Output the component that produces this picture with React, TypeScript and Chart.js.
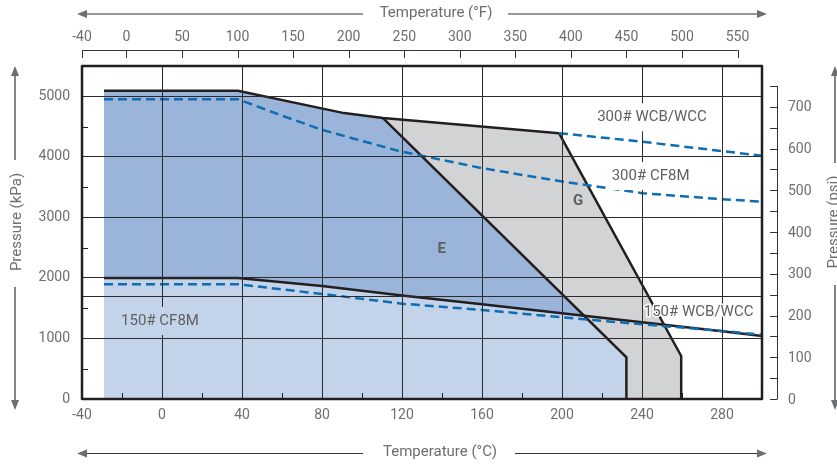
import React, { useEffect, useRef } from 'react';
import { Chart, registerables } from 'chart.js';

Chart.register(...registerables);

const FONT = 'Roboto, "DejaVu Sans", sans-serif';
const TEXT = '#6d6e71';
const LABEL = '#5f6062';
const LINE = '#231f20';
const DASH = '#0f6db4';
const DARK_BLUE = '#9bb5da';
const LIGHT_BLUE = '#c3d3e9';
const GREY = '#d2d3d5';

// Axis ticks
const tempTicksC = [-40, 0, 40, 80, 120, 160, 200, 240, 280];
const tempMinorC = [-20, 20, 60, 100, 140, 180, 220, 260];
const tempTicksF = [-40, 0, 50, 100, 150, 200, 250, 300, 350, 400, 450, 500, 550];
const kpaTicks = [0, 1000, 1700, 2000, 3000, 4000, 5000];
const kpaUnlabelled = [1700];
const kpaMinor = [500, 1500, 2500, 3500, 4500];
const psiLabels = [0, 100, 200, 300, 400, 500, 600, 700];
const psiTicks = [0, 50, 100, 150, 200, 250, 300, 350, 400, 450, 500, 550, 600, 650, 700, 750];

const TEMP_MIN = -40;
const TEMP_MAX = 300;
const KPA_MAX = 5500;
const KPA_PER_PSI = 6.894757;

// Series (temperature in °C, pressure in kPa)
const wcb300Temp = [-29, 38, 91, 110.5, 198.5];
const wcb300KPa = [5090, 5090, 4722, 4640, 4391];
const wcb300ExtTemp = [198.5, 240, 300];
const wcb300ExtKPa = [4391, 4250, 4017];
const cf8m300Temp = [-29, 38, 60, 80, 118, 160, 200, 240, 280, 300];
const cf8m300KPa = [4950, 4950, 4680, 4446, 4099, 3813, 3592, 3400, 3300, 3260];
const wcb150Temp = [-29, 38, 80, 120, 160, 200, 240, 280, 300];
const wcb150KPa = [2000, 2000, 1868, 1710, 1565, 1416, 1268, 1120, 1040];
const cf8m150Temp = [-29, 38, 80, 120, 160, 200, 240, 280, 300];
const cf8m150KPa = [1895, 1895, 1735, 1575, 1471, 1350, 1234, 1125, 1062];
const zoneETemp = [-29, 38, 91, 110.5, 232.2, 232.2];
const zoneEKPa = [5090, 5090, 4722, 4640, 689, 0];
const zoneELowTemp = [-29, 38, 80, 120, 160, 200, 211.3, 232.2, 232.2];
const zoneELowKPa = [2000, 2000, 1868, 1710, 1565, 1416, 1370, 689, 0];
const zoneGTemp = [110.5, 198.5, 259.6, 259.6];
const zoneGKPa = [4640, 4391, 711, 0];

const pts = (xs: number[], ys: number[]) => xs.map((x, i) => ({ x, y: ys[i] }));

const lineDs = (xs: number[], ys: number[], color: string, dash: number[] = []) => ({
  data: pts(xs, ys),
  borderColor: color,
  borderWidth: 2.5,
  borderDash: dash,
  borderJoinStyle: 'miter' as const,
  pointRadius: 0,
  fill: false,
  tension: 0,
});

const fillDs = (xs: number[], ys: number[], color: string) => ({
  data: pts(xs, ys),
  borderColor: 'rgba(0,0,0,0)',
  borderWidth: 1,
  backgroundColor: color,
  pointRadius: 0,
  fill: 'origin',
  tension: 0,
});

function arrow(ctx: CanvasRenderingContext2D, x1: number, y1: number, x2: number, y2: number) {
  const ang = Math.atan2(y2 - y1, x2 - x1);
  const hl = 10;
  const hw = 4;
  ctx.beginPath();
  ctx.moveTo(x1, y1);
  ctx.lineTo(x2 - Math.cos(ang) * (hl - 1), y2 - Math.sin(ang) * (hl - 1));
  ctx.stroke();
  ctx.beginPath();
  ctx.moveTo(x2, y2);
  ctx.lineTo(x2 - Math.cos(ang) * hl - Math.sin(ang) * hw, y2 - Math.sin(ang) * hl + Math.cos(ang) * hw);
  ctx.lineTo(x2 - Math.cos(ang) * hl + Math.sin(ang) * hw, y2 - Math.sin(ang) * hl - Math.cos(ang) * hw);
  ctx.closePath();
  ctx.fill();
}

const decorPlugin = {
  id: 'decor',
  afterDraw(chart: any) {
    const ctx: CanvasRenderingContext2D = chart.ctx;
    const { left, right, top, bottom } = chart.chartArea;
    const xs = chart.scales.x;
    const ys = chart.scales.y;
    const xf = chart.scales.xF;
    const yp = chart.scales.yPsi;
    ctx.save();

    // minor ticks inside plot
    ctx.strokeStyle = LINE;
    ctx.lineWidth = 1;
    ctx.beginPath();
    tempMinorC.forEach((t) => {
      const px = Math.round(xs.getPixelForValue(t)) + 0.5;
      ctx.moveTo(px, bottom);
      ctx.lineTo(px, bottom - 6);
    });
    kpaMinor.forEach((k) => {
      const py = Math.round(ys.getPixelForValue(k)) + 0.5;
      ctx.moveTo(left, py);
      ctx.lineTo(left + 6, py);
    });
    ctx.stroke();

    // series labels
    const label = (text: string, t: number, k: number, bg: string | null, halo: boolean, bold = false) => {
      const cx = xs.getPixelForValue(t);
      const cy = ys.getPixelForValue(k);
      ctx.font = `${bold ? 'bold ' : ''}15px ${FONT}`;
      ctx.textAlign = 'center';
      ctx.textBaseline = 'middle';
      const w = ctx.measureText(text).width;
      if (bg) {
        ctx.fillStyle = bg;
        ctx.fillRect(cx - w / 2 - 4, cy - 14, w + 8, 28);
      }
      if (halo) {
        ctx.strokeStyle = '#ffffff';
        ctx.lineWidth = 3;
        ctx.lineJoin = 'round';
        ctx.strokeText(text, cx, cy);
      }
      ctx.fillStyle = LABEL;
      ctx.fillText(text, cx, cy);
    };
    label('300# WCB/WCC', 245, 4652, '#ffffff', false);
    label('300# CF8M', 244.3, 3683, '#ffffff', false);
    label('150# CF8M', -1, 1288, LIGHT_BLUE, false);
    label('150# WCB/WCC', 268.3, 1425, null, true);
    label('E', 139.9, 2472, null, false, true);
    label('G', 208, 3258, null, false, true);

    // plot border
    ctx.strokeStyle = LINE;
    ctx.lineWidth = 2.5;
    ctx.strokeRect(left, top, right - left, bottom - top);

    // top °F axis
    ctx.lineWidth = 1;
    ctx.strokeStyle = '#333333';
    const axY = top - 16;
    ctx.beginPath();
    ctx.moveTo(xf.getPixelForValue(tempTicksF[0]), axY + 0.5);
    ctx.lineTo(xf.getPixelForValue(tempTicksF[tempTicksF.length - 1]), axY + 0.5);
    tempTicksF.forEach((f) => {
      const px = Math.round(xf.getPixelForValue(f)) + 0.5;
      ctx.moveTo(px, axY);
      ctx.lineTo(px, axY + 8);
    });
    ctx.stroke();
    ctx.fillStyle = TEXT;
    ctx.font = `14px ${FONT}`;
    ctx.textAlign = 'center';
    ctx.textBaseline = 'middle';
    tempTicksF.forEach((f) => {
      ctx.fillText(String(f), xf.getPixelForValue(f), axY - 13);
    });

    // right psi axis
    const axX = right + 15;
    ctx.beginPath();
    ctx.moveTo(axX + 0.5, yp.getPixelForValue(psiTicks[0]));
    ctx.lineTo(axX + 0.5, yp.getPixelForValue(psiTicks[psiTicks.length - 1]));
    psiTicks.forEach((p) => {
      const py = Math.round(yp.getPixelForValue(p)) + 0.5;
      ctx.moveTo(axX + 0.5, py);
      ctx.lineTo(axX - 7, py);
    });
    ctx.stroke();
    ctx.textAlign = 'left';
    psiLabels.forEach((p) => {
      ctx.fillText(String(p), axX + 11, yp.getPixelForValue(p) + 1);
    });

    // axis titles and arrows
    ctx.font = `15px ${FONT}`;
    ctx.textAlign = 'center';
    ctx.fillStyle = TEXT;
    ctx.strokeStyle = '#333333';
    ctx.lineWidth = 1.2;
    ctx.fillText('Temperature (°F)', 436, 13);
    arrow(ctx, 363, 14, 77, 14);
    arrow(ctx, 508, 14, 767, 14);
    ctx.fillText('Temperature (°C)', 440, 452);
    arrow(ctx, 363, 453.5, 77, 453.5);
    arrow(ctx, 515, 453.5, 767, 453.5);

    arrow(ctx, 15, 160, 15, 66);
    arrow(ctx, 15, 287, 15, 410);
    arrow(ctx, 835, 163, 835, 66);
    arrow(ctx, 835, 285, 835, 410);

    ctx.textBaseline = 'alphabetic';
    ctx.save();
    ctx.translate(21, 222);
    ctx.rotate(-Math.PI / 2);
    ctx.fillText('Pressure (kPa)', 0, 0);
    ctx.restore();
    ctx.save();
    ctx.translate(838, 222);
    ctx.rotate(-Math.PI / 2);
    ctx.fillText('Pressure (psi)', 0, 0);
    ctx.restore();

    ctx.restore();
  },
};

export default function App() {
  const ref = useRef<HTMLCanvasElement | null>(null);
  useEffect(() => {
    if (!ref.current) return;
    const chart = new Chart(ref.current, {
      type: 'line',
      data: {
        datasets: [
          lineDs(cf8m300Temp, cf8m300KPa, DASH, [9, 5]),
          lineDs(wcb300ExtTemp, wcb300ExtKPa, DASH, [9, 5]),
          lineDs(cf8m150Temp, cf8m150KPa, DASH, [9, 5]),
          lineDs(wcb150Temp, wcb150KPa, LINE),
          lineDs(wcb300Temp, wcb300KPa, LINE),
          lineDs(zoneETemp.slice(3), zoneEKPa.slice(3), LINE),
          lineDs(zoneGTemp.slice(1), zoneGKPa.slice(1), LINE),
          fillDs(zoneELowTemp, zoneELowKPa, LIGHT_BLUE),
          fillDs(zoneETemp, zoneEKPa, DARK_BLUE),
          fillDs(zoneGTemp, zoneGKPa, GREY),
        ] as any,
      },
      options: {
        responsive: false,
        animation: false,
        devicePixelRatio: 1,
        events: [],
        layout: { padding: { left: 0, top: 66, right: 75, bottom: 0 } },
        plugins: { legend: { display: false }, tooltip: { enabled: false } },
        scales: {
          x: {
            type: 'linear',
            position: 'bottom',
            min: TEMP_MIN,
            max: TEMP_MAX,
            afterBuildTicks: (s: any) => {
              s.ticks = tempTicksC.map((v) => ({ value: v }));
            },
            afterFit: (s: any) => {
              s.height = 66;
            },
            grid: { color: '#2b2b2b', lineWidth: 1, drawTicks: false, z: 1 },
            border: { display: false },
            ticks: { padding: 8, color: TEXT, font: { family: FONT, size: 14 }, maxRotation: 0, autoSkip: false },
          },
          y: {
            type: 'linear',
            position: 'left',
            min: 0,
            max: KPA_MAX,
            afterBuildTicks: (s: any) => {
              s.ticks = kpaTicks.map((v) => ({ value: v }));
            },
            afterFit: (s: any) => {
              s.width = 82;
            },
            grid: { color: '#2b2b2b', lineWidth: 1, drawTicks: false, z: 1 },
            border: { display: false },
            ticks: {
              padding: 12,
              color: TEXT,
              font: { family: FONT, size: 14 },
              autoSkip: false,
              callback: (v: any) => (kpaUnlabelled.includes(Number(v)) ? '' : String(v)),
            },
          },
          xF: {
            type: 'linear',
            position: 'top',
            display: false,
            min: (TEMP_MIN * 9) / 5 + 32,
            max: (TEMP_MAX * 9) / 5 + 32,
          },
          yPsi: {
            type: 'linear',
            position: 'right',
            display: false,
            min: 0,
            max: KPA_MAX / KPA_PER_PSI,
          },
        },
      } as any,
      plugins: [decorPlugin],
    });
    return () => chart.destroy();
  }, []);
  return (
    <div style={{ position: 'fixed', left: 0, top: 0, width: 837, height: 465, background: '#fff' }}>
      <canvas ref={ref} width={837} height={465} />
    </div>
  );
}
